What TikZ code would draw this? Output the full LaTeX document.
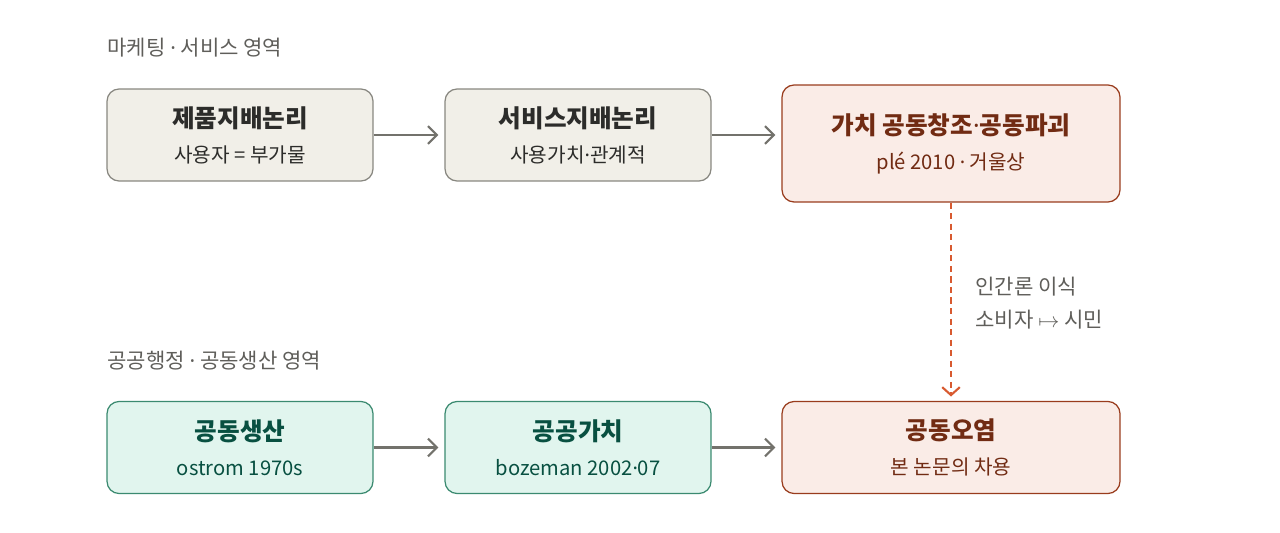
\documentclass[tikz,border=0pt]{standalone}
\usepackage{fontspec}
\setmainfont{Noto Sans CJK KR}
\newfontfamily\dotfont{Noto Sans}
\usetikzlibrary{arrows.meta}

\definecolor{beigeF}{HTML}{F1EFE8}
\definecolor{beigeD}{HTML}{888780}
\definecolor{beigeT}{HTML}{2C2C2A}
\definecolor{pinkF}{HTML}{FAECE7}
\definecolor{pinkD}{HTML}{993C1D}
\definecolor{pinkT}{HTML}{712B13}
\definecolor{greenF}{HTML}{E1F5EE}
\definecolor{greenD}{HTML}{3B8A70}
\definecolor{greenT}{HTML}{085041}
\definecolor{arrowC}{HTML}{73726C}
\definecolor{dashC}{HTML}{D85A30}
\definecolor{noteC}{HTML}{5F5E5A}

\tikzset{
 card/.style = {rounded corners=0.24cm, line width=0.7pt, align=center,
   minimum width=5.32cm, minimum height=1.84cm, inner sep=0pt},
 oldbox/.style = {card, fill=beigeF, draw=beigeD, text=beigeT},
 endbox/.style = {card, fill=pinkF, draw=pinkD, text=pinkT, minimum width=6.76cm},
 newbox/.style = {card, fill=greenF, draw=greenD, text=greenT},
 flow/.style = {draw=arrowC, line width=1.2pt, -{Straight Barb[length=5pt, width=10pt, line width=1.2pt]}},
 area/.style = {anchor=west, inner sep=0pt, text=noteC, font=\fontsize{12}{14}\selectfont}
}
\newcommand{\mdot}{{\dotfont ·}}
\newcommand{\cardtext}[2]{{\fontsize{14}{16}\selectfont\bfseries #1}\\[8pt]{\fontsize{11.5}{13}\selectfont #2}}

\begin{document}
\begin{tikzpicture}[x=0.02cm, y=-0.02cm]
 \useasboundingbox (0,0) rectangle (1280,533);
 % 영역 제목
 \node[area] (top) at (107,48) {마케팅 \mdot{} 서비스 영역};
 \node[area] (bottom) at (107,361) {공공행정 \mdot{} 공동생산 영역};

 \node[oldbox] (A) at (240,135) {\cardtext{제품지배논리}{사용자 = 부가물}};
 \node[oldbox] (B) at (578,135) {\cardtext{서비스지배논리}{사용가치\mdot 관계적}};
 \node[endbox, minimum height=2.34cm] (C) at (951,143.5) {\cardtext{가치 공동창조\mdot 공동파괴}{plé 2010 \mdot{} 거울상}};

 \node[newbox] (D) at (240,447.5) {\cardtext{공동생산}{ostrom 1970s}};
 \node[newbox] (E) at (578,447.5) {\cardtext{공공가치}{bozeman 2002\mdot 07}};
 \node[endbox] (F) at (951,447.5) {\cardtext{공동오염}{본 논문의 차용}};

 \draw[flow, shorten >=3.5pt] (A) -- (B);
 \draw[flow, shorten >=3.5pt] (B.east) -- (C.west |- B.east);
 \draw[flow, shorten >=3.5pt] (D) -- (E);
 \draw[flow, shorten >=3.5pt] (E) -- (F);

 % 인간론 이식
 \draw[draw=dashC, line width=1.3pt, dash pattern=on 3.5pt off 2.5pt, shorten >=2.5pt,
   -{Straight Barb[length=4.5pt, width=10pt, line width=1.2pt]}] (C) -- (F);
 \node[anchor=west, align=left, inner sep=0pt, text=noteC, font=\fontsize{12}{19}\selectfont] (note) at (975,303)
   {인간론 이식\\소비자 $\mapsto$ 시민};
\end{tikzpicture}
\end{document}
